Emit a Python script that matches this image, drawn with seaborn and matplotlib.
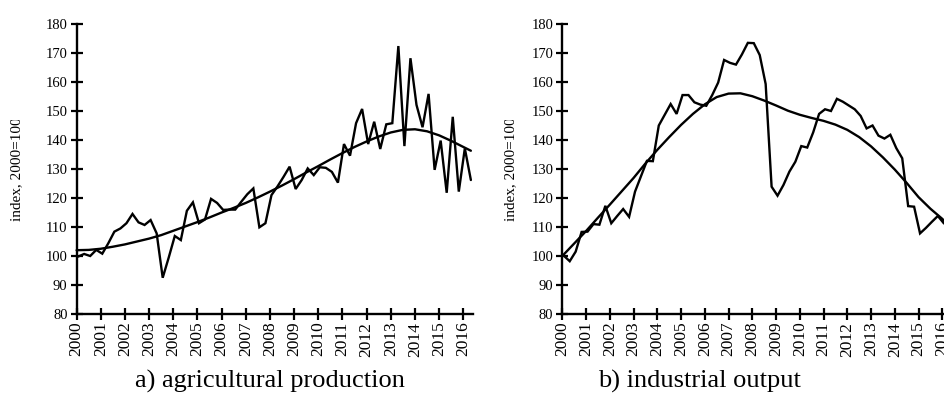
import numpy as np
import pandas as pd
import matplotlib
matplotlib.use("Agg")
import matplotlib.pyplot as plt
import seaborn as sns
from matplotlib.transforms import Bbox

# Quarterly index values, 2000Q1 .. 2016Q2 (2000 = 100)
agri_index = [
    99.8, 100.7, 100.0, 102.1, 100.8, 104.4, 108.4, 109.5, 111.3, 114.5,
    111.6, 110.7, 112.4, 107.8, 92.5, 99.5, 106.9, 105.5, 115.6, 118.5,
    111.3, 112.6, 119.7, 118.3, 115.9, 116.0, 116.0, 118.7, 121.3, 123.3,
    109.9, 111.3, 121.0, 124.0, 127.3, 130.8, 123.1, 126.2, 130.2, 127.9,
    130.6, 130.4, 129.0, 125.3, 138.6, 134.6, 145.8, 150.7, 138.6, 146.3,
    136.9, 145.4, 145.8, 172.4, 137.9, 168.2, 152.1, 144.4, 155.9, 129.7,
    139.8, 121.8, 148.0, 122.2, 137.1, 126.2,
]
ind_index = [
    100.1, 98.2, 101.5, 108.3, 108.4, 111.0, 110.8, 117.3, 111.3, 113.8,
    116.2, 113.5, 122.2, 127.5, 132.8, 132.7, 145.0, 148.7, 152.4, 149.0,
    155.5, 155.5, 153.0, 152.2, 151.8, 155.5, 159.8, 167.6, 166.6, 166.0,
    169.5, 173.5, 173.4, 169.3, 159.3, 123.9, 120.8, 124.5, 129.1, 132.5,
    137.9, 137.4, 142.6, 149.0, 150.6, 150.0, 154.2, 153.2, 151.9, 150.6,
    148.3, 144.0, 145.0, 141.5, 140.5, 141.8, 137.2, 133.7, 117.2, 117.0,
    107.8, 109.7, 111.8, 113.8, 111.3, 110.0,
]

# Smoothed trends, sampled every half year from 2000.0 to 2016.0, plus the last quarter
agri_trend = [
    102.0, 102.1, 102.5, 103.2, 104.0, 105.0, 106.0, 107.2, 108.7, 110.2,
    111.7, 113.3, 115.0, 116.6, 118.3, 120.2, 122.2, 124.3, 126.5, 128.8,
    131.0, 133.3, 135.5, 137.6, 139.5, 141.2, 142.6, 143.5, 143.7, 143.0,
    141.6, 139.7, 137.6, 136.3,
]
ind_trend = [
    100.0, 104.3, 108.6, 113.2, 117.7, 122.3, 126.9, 131.9, 136.6, 141.0,
    145.2, 149.0, 152.3, 154.8, 156.0, 156.1, 155.1, 153.6, 151.9, 150.1,
    148.7, 147.6, 146.6, 145.3, 143.5, 141.0, 137.8, 134.0, 129.8, 125.2,
    120.3, 116.3, 112.8, 110.0,
]

year_ticks = list(range(2000, 2017))
y_ticks = list(range(80, 181, 10))
captions = ["a) agricultural production", "b) industrial output"]
y_label = "index, 2000=100"

# time axis: quarterly observations and half-year trend samples
n_q = len(agri_index)
t_q = 2000 + (np.arange(n_q) + 0.25) / 4
t_tr = np.append(2000 + 0.5 * np.arange(33), t_q[-1])

sns.set_theme(style="ticks")
plt.rcParams["font.family"] = ["Liberation Serif", "DejaVu Serif"]

W, H = 944, 407
fig = plt.figure(figsize=(W / 100, H / 100), dpi=100)

y_top, y_bot = 24, 314
panels = [
    dict(x0=76.6, ppy=24.17, series=agri_index, trend=agri_trend, lab_x=23, cap_x=270),
    dict(x0=562.3, ppy=23.75, series=ind_index, trend=ind_trend, lab_x=517, cap_x=699),
]
xmax = 2016.42
axes = []
for p, cap in zip(panels, captions):
    width_px = (xmax - 2000) * p["ppy"]
    ax = fig.add_axes([p["x0"] / W, (H - y_bot) / H, width_px / W, (y_bot - y_top) / H])
    ax.set_facecolor("white")
    df_s = pd.DataFrame({"t": t_q, "v": p["series"]})
    df_t = pd.DataFrame({"t": t_tr, "v": p["trend"]})
    sns.lineplot(data=df_s, x="t", y="v", ax=ax, color="black", lw=1.7,
                 solid_joinstyle="miter", clip_on=False)
    sns.lineplot(data=df_t, x="t", y="v", ax=ax, color="black", lw=1.7, clip_on=False)
    ax.set_xlim(2000, xmax)
    ax.set_ylim(80, 180)
    ax.set_xticks(year_ticks)
    ax.set_xticklabels([str(y) for y in year_ticks], rotation=90, fontsize=12.5)
    ax.set_yticks(y_ticks)
    ax.set_yticklabels([str(v) for v in y_ticks], fontsize=10.5)
    ax.tick_params(axis="both", direction="inout", length=9, width=1.6, color="black",
                   labelcolor="black")
    ax.tick_params(axis="x", pad=1)
    ax.tick_params(axis="y", pad=2)
    for s in ["top", "right"]:
        ax.spines[s].set_visible(False)
    for s in ["left", "bottom"]:
        ax.spines[s].set_linewidth(1.7)
        ax.spines[s].set_color("black")
    ax.set_xlabel("")
    ax.set_ylabel(y_label, fontsize=11, color="black")
    ax.yaxis.set_label_coords((p["lab_x"] - p["x0"]) / width_px, 0.5)
    fig.text(p["cap_x"] / W, (H - 381) / H, cap, ha="center", va="center",
             fontsize=19, color="black")
    axes.append(ax)

# trim the top of the rotated axis labels a little
fig.canvas.draw()
for ax in axes:
    lab = ax.yaxis.label
    bb = lab.get_window_extent()
    lab.set_clip_box(Bbox.from_extents(bb.x0 - 3, bb.y0 - 3, bb.x1 + 3, bb.y1 - 3))
    lab.set_clip_on(True)

fig.savefig("out.png", dpi=100, facecolor="white")
